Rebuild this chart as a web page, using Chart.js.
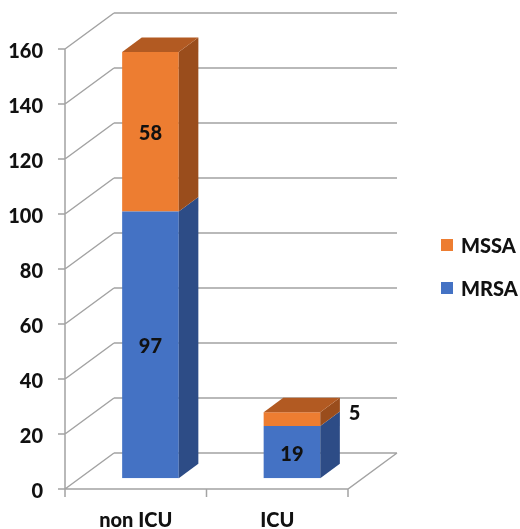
<!DOCTYPE html>
<html>
<head>
<meta charset="utf-8">
<script src="https://cdn.jsdelivr.net/npm/chart.js@4.4.1/dist/chart.umd.min.js"></script>
<style>
  html, body { margin: 0; padding: 0; background: #fff; }
  #wrap { width: 520px; height: 529px; }
</style>
</head>
<body>
<div id="wrap"><canvas id="mrsaChart" width="520" height="529"></canvas></div>
<script>
// Data
const categories = ['non ICU', 'ICU'];
const mrsaValues = [97, 19];
const mssaValues = [58, 5];
const yTicks = [0, 20, 40, 60, 80, 100, 120, 140, 160];

const FONT = 'Lato, "Open Sans", sans-serif';
const WEIGHT = '900';
const GRID = '#a3a3a3';
const DEPTH = { x: 49, y: -36 };   // full depth of the 3D box
const BAR_FRONT = 0.3;             // bar front face sits at 30% depth
const BAR_DEPTH = 0.4;

const sideColors = { MRSA: '#2d4c86', MSSA: '#9a4d1c' };
const topColors = { MRSA: '#3a62a8', MSSA: '#b25a22' };

// Back wall, side wall gridlines and floor
const wallPlugin = {
    id: 'wall',
    beforeDatasetsDraw(chart) {
        const { ctx, chartArea: a, scales: { y } } = chart;
        ctx.save();
        ctx.strokeStyle = GRID;
        ctx.lineWidth = 1.5;
        ctx.beginPath();
        yTicks.forEach(v => {
            const py = y.getPixelForValue(v);
            ctx.moveTo(a.left + DEPTH.x, py + DEPTH.y);
            ctx.lineTo(a.right + DEPTH.x, py + DEPTH.y);
            ctx.moveTo(a.left, py);
            ctx.lineTo(a.left + DEPTH.x, py + DEPTH.y);
            // small tick mark left of the axis
            ctx.moveTo(a.left - 7, py);
            ctx.lineTo(a.left, py);
        });
        // front axis line
        ctx.moveTo(a.left, a.top);
        ctx.lineTo(a.left, a.bottom);
        // floor front edge and right edge
        ctx.moveTo(a.left, a.bottom);
        ctx.lineTo(a.right, a.bottom);
        ctx.lineTo(a.right + DEPTH.x, a.bottom + DEPTH.y);
        // category tick marks
        const step = (a.right - a.left) / categories.length;
        for (let i = 0; i <= categories.length; i++) {
            const px = a.left + i * step;
            ctx.moveTo(px, a.bottom);
            ctx.lineTo(px, a.bottom + 8);
        }
        ctx.stroke();
        ctx.restore();

        // shift the bars' front faces into the box
        ctx.save();
        ctx.translate(DEPTH.x * BAR_FRONT, DEPTH.y * BAR_FRONT);
    },
    afterDatasetsDraw(chart) {
        const { ctx } = chart;
        const dx = DEPTH.x * BAR_DEPTH, dy = DEPTH.y * BAR_DEPTH;
        const nSets = chart.data.datasets.length;
        chart.data.datasets.forEach((ds, di) => {
            const meta = chart.getDatasetMeta(di);
            meta.data.forEach(bar => {
                const { x, y, base, width } = bar.getProps(['x', 'y', 'base', 'width'], true);
                const l = x - width / 2, r = x + width / 2;
                // side face
                ctx.fillStyle = sideColors[ds.label];
                ctx.beginPath();
                ctx.moveTo(r, y);
                ctx.lineTo(r + dx, y + dy);
                ctx.lineTo(r + dx, base + dy);
                ctx.lineTo(r, base);
                ctx.closePath();
                ctx.fill();
                // top face on the topmost segment
                if (di === nSets - 1) {
                    ctx.fillStyle = topColors[ds.label];
                    ctx.beginPath();
                    ctx.moveTo(l, y);
                    ctx.lineTo(l + dx, y + dy);
                    ctx.lineTo(r + dx, y + dy);
                    ctx.lineTo(r, y);
                    ctx.closePath();
                    ctx.fill();
                }
            });
        });

        // value labels
        ctx.fillStyle = '#111';
        ctx.font = WEIGHT + ' 20px ' + FONT;
        ctx.textBaseline = 'middle';
        chart.data.datasets.forEach((ds, di) => {
            const meta = chart.getDatasetMeta(di);
            meta.data.forEach((bar, i) => {
                const { x, y, base, width } = bar.getProps(['x', 'y', 'base', 'width'], true);
                const h = base - y;
                if (h > 24) {
                    ctx.textAlign = 'center';
                    ctx.fillText(ds.data[i], x, (y + base) / 2 + 2);
                } else {
                    ctx.textAlign = 'left';
                    ctx.fillText(ds.data[i], x + width / 2 + dx + 9, (y + base) / 2 - 6);
                }
            });
        });
        ctx.restore();
    },
    afterDraw(chart) {
        // legend, top item is the top stack segment
        const { ctx } = chart;
        ctx.save();
        ctx.font = WEIGHT + ' 20px ' + FONT;
        ctx.textAlign = 'left';
        ctx.textBaseline = 'middle';
        const items = chart.data.datasets.slice().reverse();
        items.forEach((ds, i) => {
            const cy = 245 + i * 43;
            ctx.fillStyle = ds.backgroundColor;
            ctx.fillRect(441, cy - 6, 12, 12);
            ctx.fillStyle = '#111';
            ctx.fillText(ds.label, 461, cy + 2);
        });
        ctx.restore();
    }
};

const ctx = document.getElementById('mrsaChart').getContext('2d');
new Chart(ctx, {
    type: 'bar',
    data: {
        labels: categories,
        datasets: [
            { label: 'MRSA', data: mrsaValues, backgroundColor: '#4472c4' },
            { label: 'MSSA', data: mssaValues, backgroundColor: '#ed7d31' }
        ]
    },
    options: {
        responsive: false,
        animation: false,
        events: [],
        layout: { padding: { top: 49, right: 172, left: 0, bottom: 0 } },
        datasets: { bar: { categoryPercentage: 1, barPercentage: 0.4 } },
        plugins: {
            legend: { display: false },
            tooltip: { enabled: false }
        },
        scales: {
            x: {
                stacked: true,
                grid: { display: false, drawTicks: false },
                border: { display: false },
                ticks: { color: '#111', font: { family: FONT, size: 20, weight: WEIGHT }, padding: 20 },
                afterFit: s => { s.height = 40; }
            },
            y: {
                stacked: true,
                min: 0,
                max: 160,
                grid: { display: false, drawTicks: false },
                border: { display: false },
                ticks: { stepSize: 20, color: '#111', font: { family: FONT, size: 20, weight: WEIGHT }, padding: 22, labelOffset: 3 },
                afterFit: s => { s.width = 65; }
            }
        }
    },
    plugins: [wallPlugin]
});
</script>
</body>
</html>
